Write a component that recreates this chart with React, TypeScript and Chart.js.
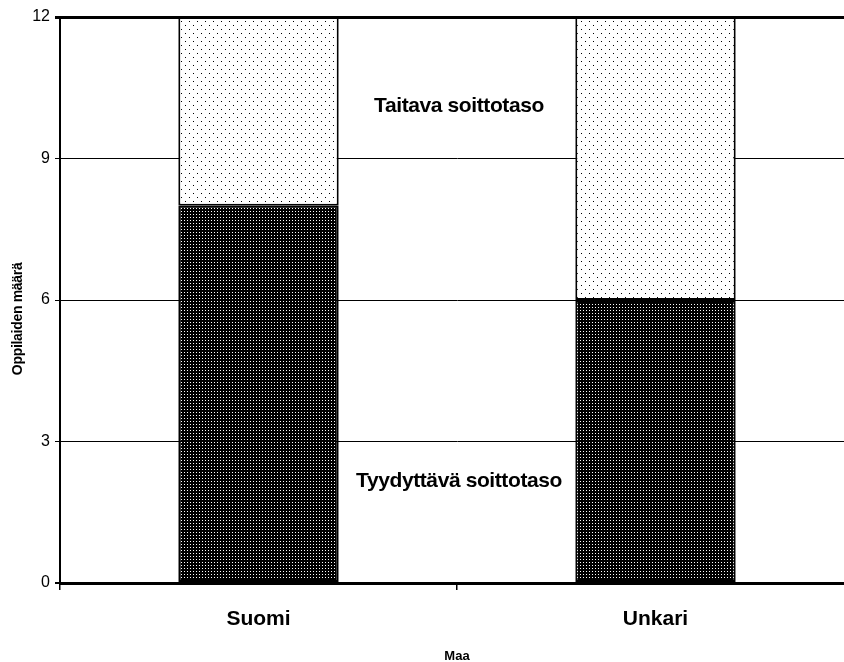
import React, { useEffect, useRef } from "react";
import { Chart, registerables } from "chart.js";

Chart.register(...registerables);

const categories = ["Suomi", "Unkari"];
const tyydyttava = [8, 6];
const taitava = [4, 6];
const yTicks = [0, 3, 6, 9, 12];
const seriesNames = ["Tyydyttävä soittotaso", "Taitava soittotaso"];
// label anchor values (in data units) for in-chart series labels
const labelValues = [2.15, 10.1];
const yTitle = "Oppilaiden määrä";

const FONT = "'Liberation Sans', Arial, Helvetica, sans-serif";

function makeDarkPattern(): CanvasPattern | string {
  const c = document.createElement("canvas");
  c.width = 3;
  c.height = 3;
  const g = c.getContext("2d");
  if (!g) return "#222";
  g.fillStyle = "#000";
  g.fillRect(0, 0, 3, 3);
  g.fillStyle = "#fff";
  g.fillRect(1, 1, 1, 1);
  const ctx = document.createElement("canvas").getContext("2d");
  return (ctx && ctx.createPattern(c, "repeat")) || "#222";
}

function makeLightPattern(): CanvasPattern | string {
  const c = document.createElement("canvas");
  c.width = 8;
  c.height = 8;
  const g = c.getContext("2d");
  if (!g) return "#eee";
  g.fillStyle = "#fff";
  g.fillRect(0, 0, 8, 8);
  g.fillStyle = "#000";
  g.fillRect(1, 1, 1, 1);
  g.fillRect(5, 5, 1, 1);
  const ctx = document.createElement("canvas").getContext("2d");
  return (ctx && ctx.createPattern(c, "repeat")) || "#eee";
}

const seriesLabelPlugin = {
  id: "seriesLabels",
  afterDatasetsDraw(chart: any) {
    const { ctx, scales } = chart;
    const x = scales.x.getPixelForValue(0.5) + 2;
    ctx.save();
    ctx.fillStyle = "#000";
    ctx.font = `bold 21px ${FONT}`;
    (ctx as any).letterSpacing = "-0.4px";
    ctx.textAlign = "center";
    ctx.textBaseline = "middle";
    seriesNames.forEach((name, i) => {
      ctx.fillText(name, x, scales.y.getPixelForValue(labelValues[i]));
    });
    ctx.restore();

    // y axis title, placed slightly below the axis centre as in the original
    ctx.save();
    ctx.fillStyle = "#000";
    ctx.font = `bold 14px ${FONT}`;
    (ctx as any).letterSpacing = "-0.3px";
    ctx.textAlign = "center";
    ctx.textBaseline = "middle";
    ctx.translate(18, scales.y.getPixelForValue(5.6));
    ctx.rotate(-Math.PI / 2);
    ctx.fillText(yTitle, 0, 0);
    ctx.restore();
  },
};

export default function App() {
  const ref = useRef<HTMLCanvasElement | null>(null);

  useEffect(() => {
    document.body.style.margin = "0";
    const canvas = ref.current;
    if (!canvas) return;
    const chart = new Chart(canvas, {
      type: "bar",
      data: {
        labels: categories,
        datasets: [
          {
            label: seriesNames[0],
            data: tyydyttava,
            backgroundColor: makeDarkPattern() as any,
            borderColor: "#000",
            borderWidth: 2,
            borderSkipped: false,
            categoryPercentage: 1,
            barPercentage: 0.404,
          },
          {
            label: seriesNames[1],
            data: taitava,
            backgroundColor: makeLightPattern() as any,
            borderColor: "#000",
            borderWidth: 2,
            borderSkipped: false,
            categoryPercentage: 1,
            barPercentage: 0.404,
          },
        ],
      },
      options: {
        animation: false,
        responsive: false,
        devicePixelRatio: 1,
        layout: { padding: { top: 17, right: 6, bottom: 0, left: 0 } },
        plugins: {
          legend: { display: false },
          tooltip: { enabled: false },
        },
        scales: {
          x: {
            stacked: true,
            grid: {
              drawOnChartArea: false,
              color: "#000",
              lineWidth: 1.5,
              tickLength: 7,
            },
            border: { color: "#000", width: 3 },
            ticks: {
              color: "#000",
              font: { family: FONT, size: 21, weight: "bold" },
              padding: 17,
            },
            title: {
              display: true,
              text: "Maa",
              color: "#000",
              font: { family: FONT, size: 13, weight: "bold", lineHeight: 0.9 },
              padding: { top: 0, bottom: 0 },
            },
            afterFit: (scale: any) => {
              scale.height = 79;
            },
          },
          y: {
            stacked: true,
            min: 0,
            max: 12,
            afterBuildTicks: (scale: any) => {
              scale.ticks = yTicks.map((v) => ({ value: v }));
            },
            grid: {
              color: "#000",
              lineWidth: (c: any) =>
                c.tick && c.tick.value === 12 ? 3 : c.tick && c.tick.value === 0 ? 2 : 1,
              tickLength: 5,
            },
            border: { color: "#000", width: 2 },
            ticks: {
              color: "#000",
              font: { family: FONT, size: 16 },
              padding: 5,
            },
            title: { display: false },
            afterFit: (scale: any) => {
              scale.width = 60;
            },
          },
        },
      },
      plugins: [seriesLabelPlugin],
    });
    return () => chart.destroy();
  }, []);

  return (
    <div style={{ width: 844, height: 662, overflow: "hidden", background: "#fff" }}>
      <canvas ref={ref} width={860} height={662} style={{ display: "block" }} />
    </div>
  );
}
